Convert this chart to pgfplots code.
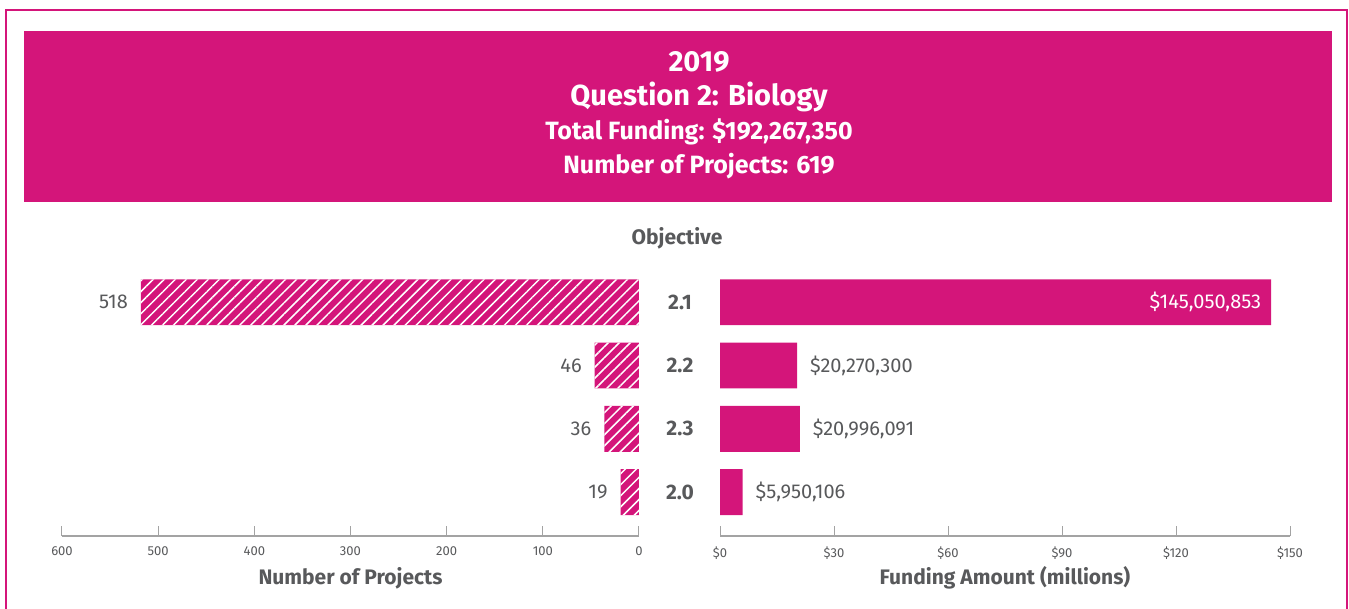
\documentclass[border=0pt]{standalone}
\usepackage{fontspec}
\setmainfont{Fira Sans}
\usepackage{pgfplots}
\pgfplotsset{compat=1.18}
\usetikzlibrary{patterns.meta}
\definecolor{nsfpink}{HTML}{D4157A}
\definecolor{txtgray}{HTML}{58595B}
\definecolor{axgray}{HTML}{A3A3A3}

\pgfplotsset{
  halfaxis/.style={
    scale only axis,
    xbar, bar width=0.726, bar shift=0pt,
    y dir=reverse, ymin=-0.7, ymax=3.695,
    axis x line*=bottom, axis y line*=left,
    y axis line style={draw=none},
    ytick style={draw=none},
    x axis line style={axgray, line width=0.6pt},
    xtick style={axgray, line width=0.5pt},
    tick align=inside, major tick length=5pt,
    /pgf/number format/assume math mode=true,
    xticklabel style={font=\fontsize{6.5}{7}\selectfont, text=txtgray, yshift=-2pt},
    xlabel style={font=\fontsize{10.5}{12}\selectfont\bfseries, text=txtgray,
      at={(axis description cs:0.5,0)}, anchor=center, yshift=-21pt},
    clip=false,
  },
}

\begin{document}
\begin{tikzpicture}[x=0.5pt,y=-0.5pt]
\useasboundingbox (0,0) rectangle (1349,609);
\draw[nsfpink, line width=1pt] (6,640) -- (6,10) -- (1347,10) -- (1347,640);
\fill[nsfpink] (24,31) rectangle (1332,202);
\node[white, font=\fontsize{14.5}{16}\selectfont\bfseries] at (699,62) {2019};
\node[white, font=\fontsize{14.5}{16}\selectfont\bfseries] at (699,97) {Question 2: Biology};
\node[white, font=\fontsize{12.5}{14}\selectfont\bfseries] at (699,132) {Total Funding: \$192,267,350};
\node[white, font=\fontsize{12.5}{14}\selectfont\bfseries] at (699,166) {Number of Projects: 619};
\node[txtgray, font=\fontsize{10.5}{12}\selectfont\bfseries] at (677,238) {Objective};

\coordinate (L) at (62,536);
\coordinate (R) at (720,536);

% number of projects
\begin{axis}[halfaxis,
  at={(L)}, anchor=south west,
  width=288.5pt, height=139pt,
  x dir=reverse, xmin=0, xmax=600,
  xtick={0,100,...,600},
  ytick=\empty,
  xlabel={Number of Projects},
]
\addplot[fill=nsfpink, draw=none,
  postaction={pattern={Lines[angle=45,distance=3.9pt,line width=0.75pt]}, pattern color=white}]
  coordinates {(518,0) (46,1) (36,2) (19,3)};
\begin{scope}[font=\fontsize{10}{12}\selectfont, text=txtgray]
\node[anchor=east, xshift=-3pt] at (axis cs:518,0) {518};
\node[anchor=east, xshift=-3pt] at (axis cs:46,1) {46};
\node[anchor=east, xshift=-3pt] at (axis cs:36,2) {36};
\node[anchor=east, xshift=-3pt] at (axis cs:19,3) {19};
\end{scope}
\end{axis}

% funding amount
\begin{axis}[halfaxis,
  at={(R)}, anchor=south west,
  width=285pt, height=139pt,
  xmin=0, xmax=150,
  xtick={0,30,...,150},
  xticklabel={\$\pgfmathprintnumber{\tick}},
  ytick={0,1,2,3},
  yticklabels={2.1,2.2,2.3,2.0},
  yticklabel style={font=\fontsize{10.5}{12}\selectfont\bfseries, text=txtgray, anchor=center, xshift=-20pt},
  xlabel={Funding Amount (millions)},
]
\addplot[fill=nsfpink, draw=none]
  coordinates {(145.050853,0) (20.2703,1) (20.996091,2) (5.950106,3)};
\begin{scope}[font=\fontsize{10}{12}\selectfont]
\node[anchor=east, xshift=-1.5pt, text=white] at (axis cs:145.050853,0) {\$145,050,853};
\node[anchor=west, xshift=3pt, text=txtgray] at (axis cs:20.2703,1) {\$20,270,300};
\node[anchor=west, xshift=3pt, text=txtgray] at (axis cs:20.996091,2) {\$20,996,091};
\node[anchor=west, xshift=3pt, text=txtgray] at (axis cs:5.950106,3) {\$5,950,106};
\end{scope}
\end{axis}
\end{tikzpicture}
\end{document}
